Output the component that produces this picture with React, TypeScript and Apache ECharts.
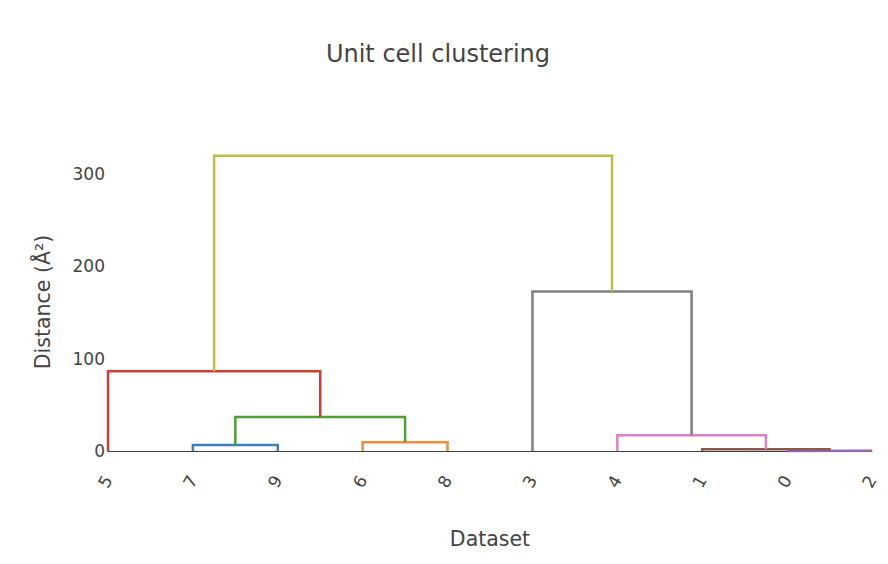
import React, { useEffect, useRef } from "react";
import * as echarts from "echarts";

// Leaf order along the x axis (dataset ids)
const leaves = ["5", "7", "9", "6", "8", "3", "4", "1", "0", "2"];

// Merge steps of the hierarchical clustering. Children are either a leaf id
// or "cN", the cluster produced by merge step N.
const mergeLeft = ["7", "6", "c0", "5", "0", "1", "4", "3", "c3"];
const mergeRight = ["9", "8", "c1", "c2", "2", "c4", "c5", "c6", "c7"];
const mergeHeight = [6.5, 9.5, 36.7, 86.3, 0.2, 1.9, 17.0, 172.7, 319.4];

// Distance axis ticks
const yTicks = [0, 100, 200, 300];

const linkColors = [
  "#3f7fc0",
  "#ef8d3e",
  "#4ea035",
  "#d33b32",
  "#9467bd",
  "#8c584b",
  "#e07fc5",
  "#808080",
  "#bcbd45",
];

const FONT = "'DejaVu Sans', Verdana, sans-serif";
const TEXT = "#444";

function buildLinks() {
  const pos: Record<string, { x: number; h: number }> = {};
  leaves.forEach((id, i) => {
    pos[id] = { x: i, h: 0 };
  });
  return mergeHeight.map((h, i) => {
    const l = pos[mergeLeft[i]];
    const r = pos[mergeRight[i]];
    pos["c" + i] = { x: (l.x + r.x) / 2, h };
    return [
      [l.x, l.h],
      [l.x, h],
      [r.x, h],
      [r.x, r.h],
    ];
  });
}

export default function App() {
  const ref = useRef<HTMLDivElement>(null);

  useEffect(() => {
    if (!ref.current) return;
    const chart = echarts.init(ref.current, undefined, { renderer: "svg" });
    const links = buildLinks();

    chart.setOption({
      animation: false,
      backgroundColor: "#fff",
      grid: { left: 108, right: 16, top: 146, bottom: 113, containLabel: false },
      xAxis: {
        type: "value",
        min: 0,
        max: leaves.length - 1,
        interval: 1,
        splitLine: { show: false },
        axisTick: { show: false },
        axisLine: { show: true, onZero: true, lineStyle: { color: TEXT, width: 1 } },
        axisLabel: {
          rotate: 60,
          margin: 26,
          fontSize: 17,
          fontFamily: FONT,
          color: TEXT,
          formatter: (v: number) => leaves[Math.round(v)] ?? "",
        },
      },
      yAxis: {
        type: "value",
        min: 0,
        max: 330,
        interval: 100,
        splitLine: { show: false },
        axisTick: { show: false },
        axisLine: { show: false },
        axisLabel: {
          margin: 3,
          fontSize: 17,
          fontFamily: FONT,
          color: TEXT,
          showMaxLabel: false,
          formatter: (v: number) => (yTicks.includes(v) ? String(v) : ""),
        },
      },
      graphic: [
        {
          type: "text",
          x: 438,
          y: 54,
          style: {
            text: "Unit cell clustering",
            fontSize: 24,
            fontFamily: FONT,
            fill: TEXT,
            textAlign: "center",
            textVerticalAlign: "middle",
          },
        },
        {
          type: "text",
          x: 490,
          y: 539,
          style: {
            text: "Dataset",
            fontSize: 20.5,
            fontFamily: FONT,
            fill: TEXT,
            textAlign: "center",
            textVerticalAlign: "middle",
          },
        },
        {
          type: "text",
          x: 43,
          y: 302,
          rotation: Math.PI / 2,
          style: {
            text: "Distance (Å²)",
            fontSize: 20.5,
            fontFamily: FONT,
            fill: TEXT,
            textAlign: "center",
            textVerticalAlign: "middle",
          },
        },
      ],
      series: links.map((pts, i) => ({
        type: "line",
        data: pts,
        showSymbol: false,
        symbol: "none",
        clip: false,
        silent: true,
        lineStyle: { color: linkColors[i], width: 2.5, join: "miter" },
      })),
    });

    return () => chart.dispose();
  }, []);

  return (
    <div
      ref={ref}
      style={{ position: "fixed", left: 0, top: 0, width: 888, height: 564 }}
    />
  );
}
